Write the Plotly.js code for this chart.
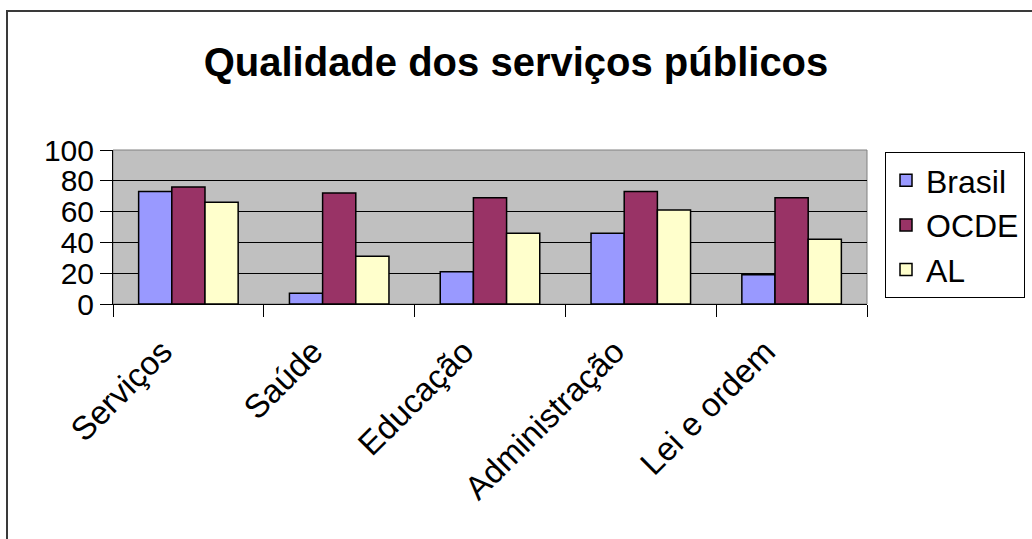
<!DOCTYPE html>
<html>
<head>
<meta charset="utf-8">
<script src="https://cdn.plot.ly/plotly-3.0.1.min.js"></script>
<style>
  html, body { margin: 0; padding: 0; background: #fff; }
  #wrap { position: relative; width: 1032px; height: 539px; overflow: hidden; }
  #chart { position: absolute; left: 0; top: 0; width: 1032px; height: 539px; }
  #frame { position: absolute; left: 6px; top: 10px; width: 1040px; height: 540px;
           border-top: 2px solid #3a3a3a; border-left: 2px solid #3a3a3a; pointer-events: none; }
</style>
</head>
<body>
<div id="wrap">
  <div id="chart"></div>
  <div id="frame"></div>
</div>
<script>
const categories = ["Serviços", "Saúde", "Educação", "Administração", "Lei e ordem"];
const brasil = [73, 7, 21, 46, 19];
const ocde = [76, 72, 69, 73, 69];
const al = [66, 31, 46, 61, 42];
const seriesNames = ["Brasil", "OCDE", "AL"];
const yTicks = [0, 20, 40, 60, 80, 100];

const colors = ["#9999FF", "#993366", "#FFFFCC"];
const values = [brasil, ocde, al];

const traces = values.map((v, i) => ({
  type: "bar",
  name: seriesNames[i],
  x: categories,
  y: v,
  marker: { color: colors[i], line: { color: "#000", width: 1.5 } },
  hoverinfo: "x+y+name"
}));

const font = "Arial, 'Liberation Sans', sans-serif";

const layout = {
  width: 1032,
  height: 539,
  paper_bgcolor: "#ffffff",
  plot_bgcolor: "#C0C0C0",
  margin: { l: 113, r: 165, t: 150, b: 235 },
  barmode: "group",
  bargap: 0.34,
  bargroupgap: 0,
  title: {
    text: "<b>Qualidade dos serviços públicos</b>",
    font: { family: font, size: 40, color: "#000" },
    x: 0.5, xref: "container", xanchor: "center",
    y: 0.885, yref: "container", yanchor: "middle"
  },
  xaxis: {
    type: "category",
    showgrid: false,
    zeroline: false,
    showline: true,
    linecolor: "#000",
    linewidth: 1,
    ticks: "outside",
    tickson: "boundaries",
    ticklen: 12,
    tickcolor: "#000",
    tickangle: -45,
    ticklabelstandoff: 14,
    ticklabelshift: -26,
    tickfont: { family: font, size: 33, color: "#000" }
  },
  yaxis: {
    range: [0, 100],
    tickvals: yTicks,
    ticktext: yTicks.map(String),
    showgrid: true,
    gridcolor: "#000",
    gridwidth: 1,
    zeroline: false,
    showline: true,
    linecolor: "#000",
    linewidth: 1,
    ticks: "outside",
    ticklen: 12,
    tickcolor: "#000",
    tickfont: { family: font, size: 30, color: "#000" }
  },
  shapes: [{
    type: "rect", xref: "paper", yref: "paper",
    x0: 0, x1: 1, y0: 0, y1: 1,
    line: { color: "#808080", width: 1 }, layer: "below"
  }],
  legend: {
    xref: "container", yref: "container",
    x: 885 / 1032, xanchor: "left",
    y: 1 - 152 / 539, yanchor: "top",
    bgcolor: "#fff",
    bordercolor: "#000",
    borderwidth: 1,
    font: { family: font, size: 32, color: "#000" },
    traceorder: "normal",
    itemwidth: 30
  },
  showlegend: true
};

Plotly.newPlot("chart", traces, layout, { displayModeBar: false, staticPlot: false });
</script>
</body>
</html>
